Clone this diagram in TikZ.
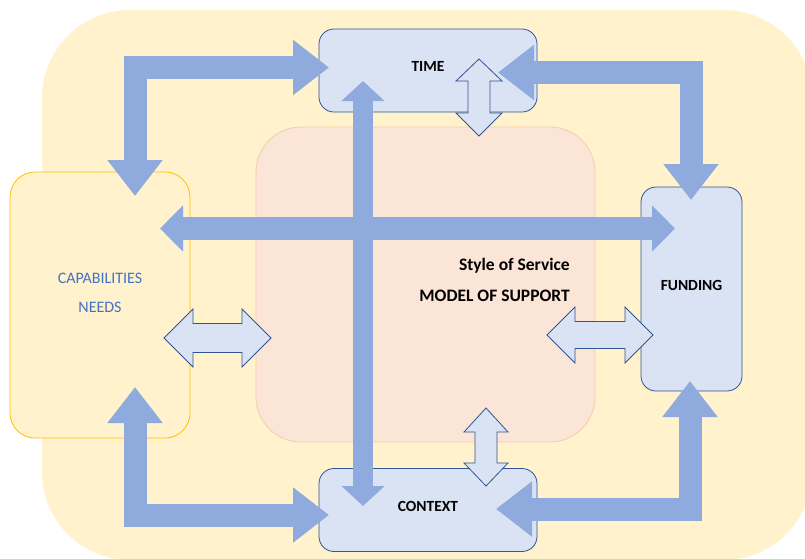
\documentclass[tikz,border=0pt]{standalone}
\usepackage{fontspec}
\setmainfont{Carlito}
\usetikzlibrary{arrows.meta}
\definecolor{paleyellow}{HTML}{FFF2CC}
\definecolor{gold}{HTML}{FFC000}
\definecolor{palepink}{HTML}{FBE5D6}
\definecolor{pinkline}{HTML}{F8CBAD}
\definecolor{paleblue}{HTML}{DAE3F3}
\definecolor{darkblue}{HTML}{2F5597}
\definecolor{flowblue}{HTML}{8FAADC}
\definecolor{textblue}{HTML}{4472C4}
\tikzset {
  % rounded areas
  area/.style = {
    rectangle,
    inner sep = 0
  },
  backdrop/.style = {
    area,
    fill = paleyellow,
    rounded corners = 88pt
  },
  % the needs box
  needs box/.style = {
    area,
    fill = paleyellow,
    draw = gold,
    line width = 0.8pt,
    rounded corners = 25pt
  },
  % model of support
  core/.style = {
    area,
    fill = palepink,
    draw = pinkline,
    line width = 0.8pt,
    rounded corners = 45pt
  },
  % time, funding and context
  factor/.style = {
    area,
    fill = paleblue,
    draw = darkblue,
    line width = 0.8pt,
    rounded corners = 15pt,
    font = \fontsize{15.5}{18}\selectfont\bfseries,
    text height = 10.5pt,
    text depth = 8pt
  },
  caption/.style = {
    inner sep = 0,
    font = \fontsize{17.5}{20}\selectfont\bfseries,
    text height = 11pt,
    text depth = 0pt
  }
}
\tikzset {
  % thick two way flow round the boxes
  flow/.style = {
    draw = flowblue,
    line width = 23pt,
    line join = miter,
    >={Triangle[width=53pt,length=36pt]},
    <->
  },
  % straight flows across the model
  cross flow/.style = {
    draw = flowblue,
    line width = #1,
    >={Triangle[width=#1+22pt,length=#1]},
    <->
  },
  % outlined two way arrow
  hollow arrow/.style = {
    fill = paleblue,
    draw = darkblue,
    line width = 0.8pt,
    line join = miter
  }
}

\begin{document}
\begin{tikzpicture}[x=1pt, y=-1pt]
    \useasboundingbox (0,0) rectangle (805,558);
    \clip (0,0) rectangle (805,558);

    \node[backdrop, minimum width=770pt, minimum height=550pt] (back) at (427,285) {};
    \node[needs box, minimum width=180pt, minimum height=266pt] (needs) at (100,305) {};
    \node[align=center, text=textblue, font=\fontsize{16}{19}\selectfont] (needstext) at (100,292.5) {CAPABILITIES\\[10pt]NEEDS};
    \node[core, minimum width=339pt, minimum height=315pt] (model) at (425.5,284.5) {};

    \node[factor, minimum width=218pt, minimum height=83pt] (time) at (428,70.5) {TIME};
    \node[factor, minimum width=101pt, minimum height=204pt] (funding) at (691.5,289) {FUNDING};
    \node[factor, minimum width=218pt, minimum height=83pt] (context) at (428,510) {CONTEXT};

    \node[caption, anchor=east] (style) at (570,265) {Style of Service};
    \node[caption, anchor=east] (support) at (570,296) {MODEL OF SUPPORT};

    % ends of the flows
    \coordinate (needs top) at (135,196);
    \coordinate (needs bottom) at (135,387);
    \coordinate (needs side) at (160,228.5);
    \coordinate (time left) at (329,67.5);
    \coordinate (time right) at (498,72.5);
    \coordinate (time foot) at (363,81);
    \coordinate (funding top) at (691,200);
    \coordinate (funding bottom) at (690,381);
    \coordinate (funding side) at (675,228.5);
    \coordinate (context left) at (329,515);
    \coordinate (context right) at (496,509);
    \coordinate (context head) at (363,506);

    \draw[flow] (needs top) |- (time left);
    \draw[flow] (time right) -| (funding top);
    \draw[flow] (needs bottom) |- (context left);
    \draw[flow] (context right) -| (funding bottom);
    \draw[cross flow=23pt] (needs side) -- (funding side);
    \draw[cross flow=20pt] (time foot) -- (context head);

    % links with the model of support
    \draw[hollow arrow] (479,59) -- (502,81) -- (490,81) -- (490,113) -- (502,113) -- (479,136)
      -- (456,113) -- (468,113) -- (468,81) -- (456,81) -- cycle;
    \draw[hollow arrow] (486,408) -- (508,432) -- (497,432) -- (497,463) -- (508,463) -- (486,486)
      -- (464,463) -- (475,463) -- (475,432) -- (464,432) -- cycle;
    \draw[hollow arrow] (164,338) -- (193,309) -- (193,323.5) -- (242,323.5) -- (242,309) -- (271,338)
      -- (242,367) -- (242,352.5) -- (193,352.5) -- (193,367) -- cycle;
    \draw[hollow arrow] (547,335) -- (575,307) -- (575,321.5) -- (625,321.5) -- (625,307) -- (653,335)
      -- (625,363) -- (625,348.5) -- (575,348.5) -- (575,363) -- cycle;
  \end{tikzpicture}
\end{document}
